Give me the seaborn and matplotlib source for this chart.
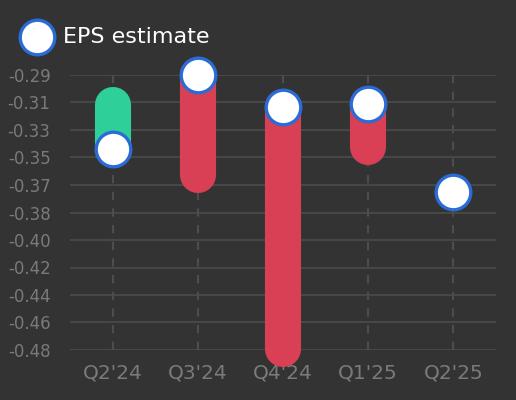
import matplotlib
matplotlib.use('Agg')
import matplotlib.pyplot as plt
import pandas as pd
import numpy as np
import seaborn as sns

quarters = ["Q2'24", "Q3'24", "Q4'24", "Q1'25", "Q2'25"]
estimate = [-0.341, -0.29, -0.312, -0.310, -0.371]
actual = [-0.311, -0.359, -0.479, -0.340, np.nan]
ytick_vals = list(np.linspace(-0.29, -0.48, 11))
ytick_labels = ['-0.29', '-0.31', '-0.33', '-0.35', '-0.37', '-0.38',
                '-0.40', '-0.42', '-0.44', '-0.46', '-0.48']

df = pd.DataFrame({'quarter': quarters, 'estimate': estimate, 'actual': actual})
df['x'] = np.arange(len(df))

bg = '#333333'
sns.set_style('dark')
plt.rcParams['font.family'] = ['DejaVu Sans']

fig = plt.figure(figsize=(5.16, 4.0), dpi=100, facecolor=bg)
ax = fig.add_axes([70/516, 1-350/400, 426/516, 275/400])
ax.set_facecolor(bg)

# bars from estimate to actual, green when beat, red when miss
for _, r in df.dropna().iterrows():
    col = '#2ecf98' if r['actual'] > r['estimate'] else '#d94055'
    ax.vlines(r['x'], r['estimate'], r['actual'], colors=col, linewidth=26,
              capstyle='round', clip_on=False, zorder=3)

sns.scatterplot(data=df, x='x', y='estimate', ax=ax, s=620, color='white',
                edgecolor='#2b6bd6', linewidth=2.4, zorder=4, clip_on=False,
                label='EPS estimate')

ax.set_xlim(-0.5, 4.5)
ax.set_ylim(-0.48, -0.29)
ax.set_xticks(df['x'])
ax.set_xticklabels(quarters)
ax.set_yticks(ytick_vals)
ax.set_yticklabels(ytick_labels)
ax.tick_params(axis='x', length=0, pad=10, labelsize=14.5, labelcolor='#7a7a7a')
ax.tick_params(axis='y', length=0, pad=14, labelsize=12, labelcolor='#7a7a7a')
ax.set_xlabel('')
ax.set_ylabel('')
for s in ax.spines.values():
    s.set_visible(False)

ax.grid(False)
for v in ytick_vals:
    ax.axhline(v, color='#474747', linewidth=1.5, zorder=1)
for x in df['x']:
    ax.axvline(x, color='#4d4d4d', linewidth=1.5, linestyle=(0, (4, 4)), zorder=1)

leg = ax.legend(loc='center left', bbox_to_anchor=(6/516, 1-37/400),
                bbox_transform=fig.transFigure, frameon=False, fontsize=16,
                labelcolor='white', handletextpad=0.15, borderaxespad=0)

fig.savefig('out.png', dpi=100, facecolor=bg)
